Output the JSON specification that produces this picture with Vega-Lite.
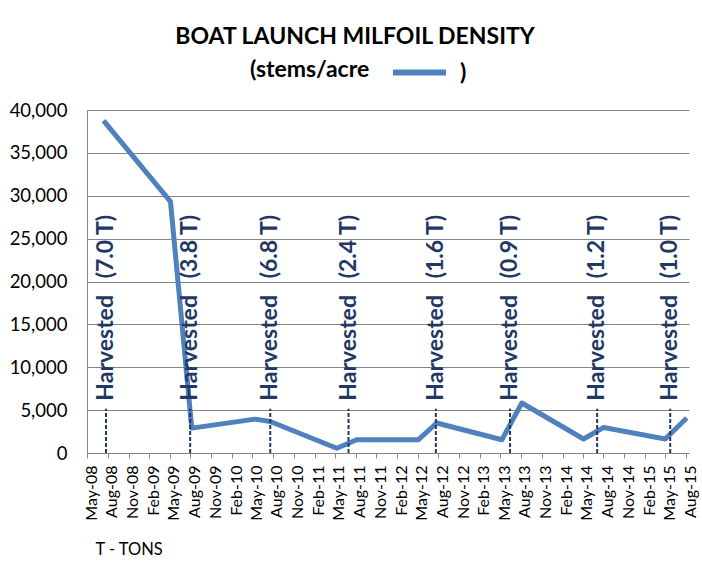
{
  "$schema": "https://vega.github.io/schema/vega-lite/v6.json",
  "width": 602,
  "height": 343,
  "autosize": {"type": "none"},
  "padding": {"left": 87, "top": 110, "right": 13, "bottom": 110},
  "background": "white",
  "config": {"font": "Lato", "view": {"stroke": null}},
  "title": {
    "text": "BOAT LAUNCH MILFOIL DENSITY",
    "font": "Lato",
    "fontSize": 23,
    "fontWeight": "bold",
    "color": "black",
    "anchor": "middle",
    "frame": "group",
    "dx": -33,
    "dy": 6,
    "offset": 13
  },
  "datasets": {
    "density": [
      {"date": "2008-07-13", "stems": 38760, "series": "stems/acre"},
      {"date": "2009-05-05", "stems": 29320, "series": "stems/acre"},
      {"date": "2009-08-07", "stems": 2900, "series": "stems/acre"},
      {"date": "2010-05-14", "stems": 3950, "series": "stems/acre"},
      {"date": "2010-07-20", "stems": 3680, "series": "stems/acre"},
      {"date": "2011-05-10", "stems": 550, "series": "stems/acre"},
      {"date": "2011-08-06", "stems": 1550, "series": "stems/acre"},
      {"date": "2012-05-05", "stems": 1550, "series": "stems/acre"},
      {"date": "2012-07-25", "stems": 3500, "series": "stems/acre"},
      {"date": "2013-05-09", "stems": 1550, "series": "stems/acre"},
      {"date": "2013-08-05", "stems": 5830, "series": "stems/acre"},
      {"date": "2014-05-05", "stems": 1630, "series": "stems/acre"},
      {"date": "2014-08-02", "stems": 2980, "series": "stems/acre"},
      {"date": "2015-05-01", "stems": 1630, "series": "stems/acre"},
      {"date": "2015-08-04", "stems": 4080, "series": "stems/acre"}
    ],
    "harvests": [
      {"date": "2008-07-24", "label": "Harvested\u00a0\u00a0\u00a0(7.0 T)"},
      {"date": "2009-07-31", "label": "Harvested\u00a0\u00a0\u00a0(3.8 T)"},
      {"date": "2010-07-20", "label": "Harvested\u00a0\u00a0\u00a0(6.8 T)"},
      {"date": "2011-07-01", "label": "Harvested\u00a0\u00a0\u00a0(2.4 T)"},
      {"date": "2012-07-21", "label": "Harvested\u00a0\u00a0\u00a0(1.6 T)"},
      {"date": "2013-06-14", "label": "Harvested\u00a0\u00a0\u00a0(0.9 T)"},
      {"date": "2014-07-04", "label": "Harvested\u00a0\u00a0\u00a0(1.2 T)"},
      {"date": "2015-05-23", "label": "Harvested\u00a0\u00a0\u00a0(1.0 T)"}
    ]
  },
  "encoding": {
    "x": {
      "field": "date",
      "type": "temporal",
      "scale": {
        "type": "utc",
        "domain": [
          {"year": 2008, "month": 5, "date": 1, "utc": true},
          {"year": 2015, "month": 8, "date": 14, "utc": true}
        ]
      },
      "axis": {
        "values": [
          {"year": 2008, "month": 5, "date": 1, "utc": true},
          {"year": 2008, "month": 8, "date": 1, "utc": true},
          {"year": 2008, "month": 11, "date": 1, "utc": true},
          {"year": 2009, "month": 2, "date": 1, "utc": true},
          {"year": 2009, "month": 5, "date": 1, "utc": true},
          {"year": 2009, "month": 8, "date": 1, "utc": true},
          {"year": 2009, "month": 11, "date": 1, "utc": true},
          {"year": 2010, "month": 2, "date": 1, "utc": true},
          {"year": 2010, "month": 5, "date": 1, "utc": true},
          {"year": 2010, "month": 8, "date": 1, "utc": true},
          {"year": 2010, "month": 11, "date": 1, "utc": true},
          {"year": 2011, "month": 2, "date": 1, "utc": true},
          {"year": 2011, "month": 5, "date": 1, "utc": true},
          {"year": 2011, "month": 8, "date": 1, "utc": true},
          {"year": 2011, "month": 11, "date": 1, "utc": true},
          {"year": 2012, "month": 2, "date": 1, "utc": true},
          {"year": 2012, "month": 5, "date": 1, "utc": true},
          {"year": 2012, "month": 8, "date": 1, "utc": true},
          {"year": 2012, "month": 11, "date": 1, "utc": true},
          {"year": 2013, "month": 2, "date": 1, "utc": true},
          {"year": 2013, "month": 5, "date": 1, "utc": true},
          {"year": 2013, "month": 8, "date": 1, "utc": true},
          {"year": 2013, "month": 11, "date": 1, "utc": true},
          {"year": 2014, "month": 2, "date": 1, "utc": true},
          {"year": 2014, "month": 5, "date": 1, "utc": true},
          {"year": 2014, "month": 8, "date": 1, "utc": true},
          {"year": 2014, "month": 11, "date": 1, "utc": true},
          {"year": 2015, "month": 2, "date": 1, "utc": true},
          {"year": 2015, "month": 5, "date": 1, "utc": true},
          {"year": 2015, "month": 8, "date": 1, "utc": true}
        ],
        "labelExpr": "utcFormat(datum.value, '%b-%y')",
        "labelAngle": 270,
        "labelFont": "Lato",
        "labelFontSize": 16,
        "labelColor": "black",
        "labelPadding": 7,
        "labelOffset": 4,
        "labelOverlap": false,
        "labelBound": false,
        "labelFlush": false,
        "tickSize": 5,
        "tickColor": "#868686",
        "domainColor": "#868686",
        "grid": false,
        "title": "T - TONS",
        "titleFont": "Lato",
        "titleFontSize": 16.5,
        "titleFontWeight": "normal",
        "titleColor": "black",
        "titleAnchor": "start",
        "titleAlign": "left",
        "titleBaseline": "middle",
        "titleX": 8,
        "titleY": 96
      }
    }
  },
  "layer": [
    {
      "data": {"name": "density"},
      "mark": {"type": "line", "strokeWidth": 5, "strokeJoin": "round"},
      "encoding": {
        "y": {
          "field": "stems",
          "type": "quantitative",
          "scale": {"domain": [0, 40000], "nice": false},
          "axis": {
            "values": [0, 5000, 10000, 15000, 20000, 25000, 30000, 35000, 40000],
            "format": ",d",
            "labelFont": "Lato",
            "labelFontSize": 18.5,
            "labelColor": "black",
            "labelPadding": 20,
            "ticks": false,
            "domainColor": "#868686",
            "gridColor": "#868686",
            "title": null
          }
        },
        "color": {
          "field": "series",
          "type": "nominal",
          "scale": {"range": ["#4F81BD"]},
          "legend": {
            "orient": "none",
            "legendX": 163,
            "legendY": -54,
            "direction": "horizontal",
            "title": "(stems/acre",
            "titleOrient": "left",
            "titleAnchor": "middle",
            "titleBaseline": "middle",
            "titleFont": "Lato",
            "titleFontSize": 23,
            "titleFontWeight": "bold",
            "titleColor": "black",
            "titlePadding": 33,
            "symbolType": "M-2,0H2",
            "symbolStrokeWidth": 6,
            "symbolSize": 702,
            "labelExpr": "')'",
            "labelFont": "Lato",
            "labelFontSize": 23,
            "labelFontWeight": "bold",
            "labelColor": "black",
            "labelOffset": 24
          }
        }
      }
    },
    {
      "data": {"name": "harvests"},
      "mark": {"type": "rule", "strokeDash": [4, 2], "strokeWidth": 2, "color": "#1F3864"},
      "encoding": {
        "y": {"datum": 0},
        "y2": {"datum": 5150}
      }
    },
    {
      "data": {"name": "harvests"},
      "mark": {
        "type": "text",
        "angle": 270,
        "align": "left",
        "baseline": "middle",
        "font": "Lato",
        "fontWeight": "bold",
        "fontSize": 23,
        "color": "#1F3864"
      },
      "encoding": {
        "y": {"datum": 6100},
        "text": {"field": "label"}
      }
    }
  ]
}
